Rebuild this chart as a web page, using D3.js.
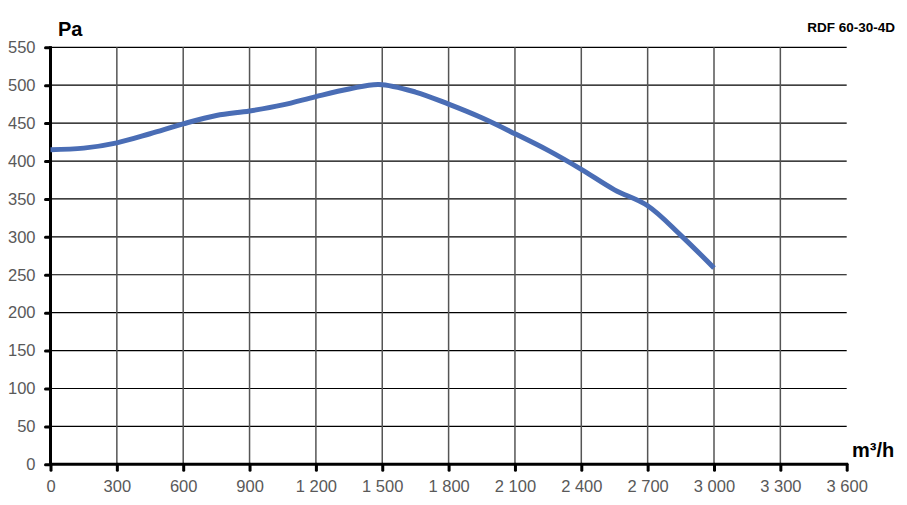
<!DOCTYPE html>
<html>
<head>
<meta charset="utf-8">
<script src="https://cdn.jsdelivr.net/npm/d3@7"></script>
<style>
  body { margin: 0; background: #fff; }
  text { font-family: "Liberation Sans", Arial, sans-serif; }
</style>
</head>
<body>
<svg width="907" height="505"></svg>
<script>
// curve
const flow = [0, 150, 300, 450, 600, 750, 900, 1050, 1200, 1350, 1485, 1650, 1800, 1950, 2100, 2250, 2400, 2550, 2700, 2850, 3000];
const pressure = [415, 417, 424, 436, 449, 460, 466, 474, 485, 495, 501, 491, 475, 457, 436, 414, 389, 362, 341, 302, 259];
const xTicks = [0, 300, 600, 900, 1200, 1500, 1800, 2100, 2400, 2700, 3000, 3300, 3600];
const yTicks = [0, 50, 100, 150, 200, 250, 300, 350, 400, 450, 500, 550];

const svg = d3.select('svg');
const x = d3.scaleLinear().domain([0, 3600]).range([50.5, 846.7]);
const y = d3.scaleLinear().domain([0, 550]).range([464.3, 47.3]);

const fmt = d3.formatLocale({ decimal: ',', thousands: '\u00a0', grouping: [3], currency: ['', ''] }).format(',d');

// grid
svg.append('g').selectAll('line').data(yTicks.slice(1)).enter().append('line')
  .attr('x1', x(0)).attr('x2', x(3600))
  .attr('y1', d => y(d)).attr('y2', d => y(d))
  .attr('stroke', '#000').attr('stroke-width', 1.2);
svg.append('g').selectAll('line').data(xTicks.slice(1, -1)).enter().append('line')
  .attr('x1', d => x(d)).attr('x2', d => x(d))
  .attr('y1', y(0)).attr('y2', y(550))
  .attr('stroke', '#555').attr('stroke-width', 1.5);

// axes
const yAxis = svg.append('g').attr('transform', `translate(${x(0)},0)`)
  .call(d3.axisLeft(y).tickValues(yTicks).tickSize(5).tickPadding(10));
const xAxis = svg.append('g').attr('transform', `translate(0,${y(0)})`)
  .call(d3.axisBottom(x).tickValues(xTicks).tickFormat(fmt).tickSize(6).tickPadding(10));

[yAxis, xAxis].forEach(a => {
  a.select('.domain').attr('stroke', '#000').attr('stroke-width', 3);
  a.selectAll('.tick line').attr('stroke', '#000').attr('stroke-width', 3).attr('stroke-linecap', 'round');
  a.selectAll('.tick text').attr('fill', '#595959').style('font-size', '16.5px')
    .style('font-family', '"Liberation Sans", Arial, sans-serif');
});
yAxis.select('.domain').attr('d', `M0,${y(0) + 1.5}V${y(550) - 1}`);
xAxis.select('.domain').attr('d', `M${x(0) - 1.5},0H${x(3600) + 1}`);

// curve
const pts = flow.map((f, i) => [f, pressure[i]]);
svg.append('path').datum(pts)
  .attr('fill', 'none').attr('stroke', '#4a6db5').attr('stroke-width', 5)
  .attr('stroke-linecap', 'butt')
  .attr('d', d3.line().x(d => x(d[0])).y(d => y(d[1])).curve(d3.curveCatmullRom.alpha(0.5)));

// labels
svg.append('text').attr('x', 58).attr('y', 36).text('Pa')
  .style('font-size', '20px').style('font-weight', 'bold');
svg.append('text').attr('x', 852).attr('y', 457).text('m³/h')
  .style('font-size', '20px').style('font-weight', 'bold');
svg.append('text').attr('x', 895).attr('y', 31.5).attr('text-anchor', 'end').text('RDF 60-30-4D')
  .style('font-size', '13.5px').style('font-weight', 'bold');
</script>
</body>
</html>
